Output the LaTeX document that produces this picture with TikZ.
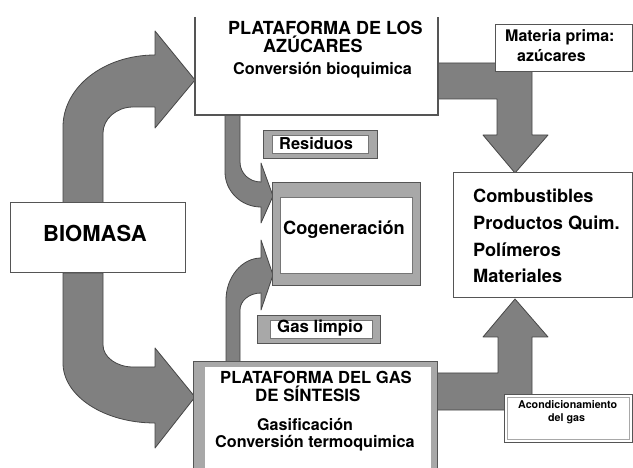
\documentclass[tikz,border=0pt]{standalone}
\usepackage{fontspec}
\setmainfont{TeX Gyre Heros}
\definecolor{arrowgray}{RGB}{128,128,128}
\definecolor{arrowedge}{RGB}{70,70,70}
\definecolor{framegray}{RGB}{168,168,168}
\definecolor{boxedge}{RGB}{85,85,85}
\newcommand{\fsz}[1]{\fontsize{#1}{#1}\selectfont}
\begin{document}
\begin{tikzpicture}[x=1pt,y=-1pt,
  flow/.style={fill=arrowgray, draw=arrowedge, line width=0.8pt, line join=round},
  plainbox/.style={draw=boxedge, line width=1pt, fill=white, inner sep=0pt, outer sep=0pt},
  framebox/.style={draw=boxedge, line width=0.8pt, fill=framegray, inner sep=0pt, outer sep=0pt},
  innerbox/.style={draw=framegray!70!black, line width=0.5pt, fill=white, inner sep=0pt, outer sep=0pt},
  lbl/.style={inner sep=0pt, anchor=base west},
]
\fill[white] (0,0) rectangle (633,468);
\useasboundingbox (0,0) rectangle (633,468);

% broad flows out of the biomass box
\draw[flow] (63,203) -- (63,127) .. controls (63,87) and (104,55) .. (155,55)
  -- (155,31) -- (195,80) -- (155,128) -- (155,107) -- (133,107)
  .. controls (116.5,107) and (103,119) .. (103,133) -- (103,203) -- cycle;
\draw[flow] (63,273) -- (63,363) .. controls (63,396) and (104,423) .. (155,423)
  -- (155,448) -- (195,397) -- (155,348) -- (155,367) -- (133,367)
  .. controls (116.5,367) and (103,357) .. (103,345) -- (103,273) -- cycle;

% narrow flows into cogeneration
\draw[flow] (225,115) -- (225,172) .. controls (225,191) and (241,207) .. (261,207)
  -- (261,223) -- (273,196) -- (261,163) -- (261,182)
  .. controls (249,182) and (240,173) .. (240,162) -- (240,115) -- cycle;
\draw[flow] (226,362) -- (226,300) .. controls (226,277) and (242,258) .. (261,258)
  -- (261,240) -- (273,275) -- (261,310) -- (261,293)
  .. controls (249,293) and (240,301) .. (240,310) -- (240,362) -- cycle;

% flows towards the products box
\draw[flow] (438,63) -- (532,63) -- (532,135) -- (548,135) -- (515,173)
  -- (483,135) -- (497,135) -- (497,99) -- (438,99) -- cycle;
\draw[flow] (437,373) -- (498,373) -- (498,337) -- (483,337) -- (515,299)
  -- (548,337) -- (532,337) -- (532,410) -- (437,410) -- cycle;

% sugar platform (open at the top)
\fill[white] (195,17) rectangle (438,115);
\draw[boxedge, line width=1.2pt] (195,17) -- (195,115) -- (438,115) -- (438,17);
\node[lbl, font=\bfseries\fsz{18}] (azu1) at (228,35) {PLATAFORMA DE LOS};
\node[lbl, font=\bfseries\fsz{18}] (azu2) at (263,53) {AZÚCARES};
\node[lbl, font=\bfseries\fsz{16.2}] (azu3) at (233,75) {Conversión bioquimica};

% syngas platform
\fill[framegray] (193,362) rectangle (437,470);
\fill[white] (205,367) rectangle (431,470);
\draw[boxedge, line width=1pt] (193,470) -- (193,362) -- (437,362) -- (437,470);
\node[lbl, font=\bfseries\fsz{16.6}] (gas1) at (220,384) {PLATAFORMA DEL GAS};
\node[lbl, font=\bfseries\fsz{16.9}] (gas2) at (255,402) {DE SÍNTESIS};
\node[lbl, font=\bfseries\fsz{16.1}] (gas3) at (257,431) {Gasificación};
\node[lbl, font=\bfseries\fsz{16.2}] (gas4) at (215,447) {Conversión termoquimica};

% biomass
\node[plainbox, minimum width=175, minimum height=70] (biomasa) at (97.5,238) {};
\node[lbl, font=\bfseries\fsz{22}] (biotxt) at (43,242) {BIOMASA};

% cogeneration
\node[framebox, minimum width=148, minimum height=103] (cogen) at (346,233.5) {};
\node[innerbox, minimum width=132, minimum height=76] (cogenin) at (346,235) {};
\node[lbl, font=\bfseries\fsz{18.2}] (cogentxt) at (283,235) {Cogeneración};

% residues and clean gas tags
\node[framebox, minimum width=114, minimum height=28] (resid) at (320,144) {};
\node[innerbox, minimum width=96, minimum height=18] (residin) at (320,144) {};
\node[lbl, font=\bfseries\fsz{16.4}] (residtxt) at (279,150) {Residuos};
\node[framebox, minimum width=123, minimum height=28] (limpio) at (318.5,329) {};
\node[innerbox, minimum width=102, minimum height=18] (limpioin) at (321,329) {};
\node[lbl, font=\bfseries\fsz{16.8}] (limpiotxt) at (277,333) {Gas limpio};

% raw material tag
\node[plainbox, minimum width=137, minimum height=47] (materia) at (563.5,48.5) {};
\node[lbl, font=\bfseries\fsz{16}] (mat1) at (505,42) {Materia prima:};
\node[lbl, font=\bfseries\fsz{16}] (mat2) at (517,62) {azúcares};

% products
\node[plainbox, minimum width=179, minimum height=125] (productos) at (542.5,235.5) {};
\node[lbl, font=\bfseries\fsz{18.2}] (p1) at (473,203) {Combustibles};
\node[lbl, font=\bfseries\fsz{18.2}] (p2) at (473,230) {Productos Quim.};
\node[lbl, font=\bfseries\fsz{18.2}] (p3) at (473,257) {Polímeros};
\node[lbl, font=\bfseries\fsz{18.2}] (p4) at (473,283) {Materiales};

% gas conditioning tag
\node[plainbox, minimum width=128, minimum height=48] (acond) at (568,418) {};
\node[draw=framegray, line width=0.6pt, minimum width=122, minimum height=42, inner sep=0pt] (acondin) at (568,418) {};
\node[lbl, font=\bfseries\fsz{10.7}] (ac1) at (518,408) {Acondicionamiento};
\node[lbl, font=\bfseries\fsz{10.7}] (ac2) at (548,421) {del gas};
\end{tikzpicture}
\end{document}
